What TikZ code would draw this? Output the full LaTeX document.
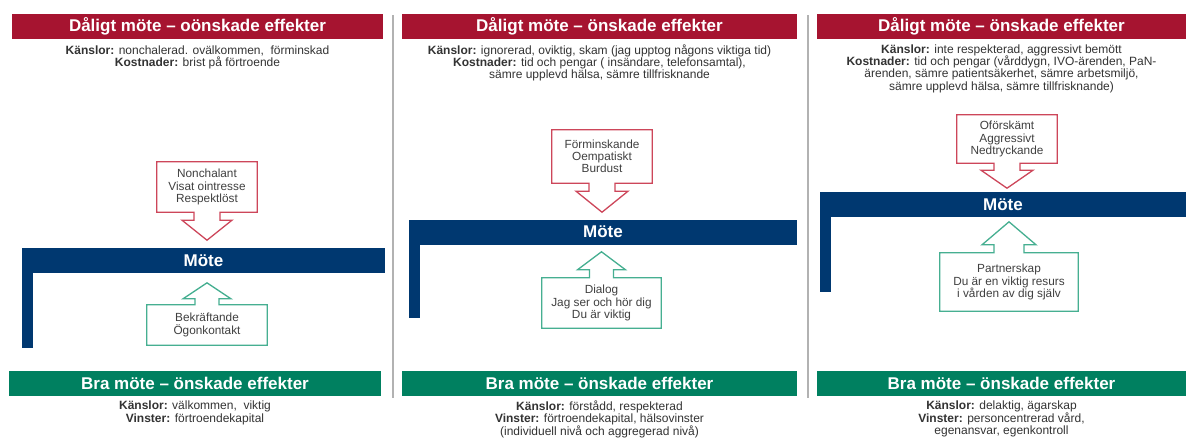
\documentclass[tikz,border=0pt]{standalone}
\usepackage{fontspec}
\setmainfont{Liberation Sans}
\usetikzlibrary{positioning, calc}

\definecolor{motered}{RGB}{166,20,48}
\definecolor{motenavy}{RGB}{0,56,112}
\definecolor{motegreen}{RGB}{0,128,96}
\definecolor{outred}{RGB}{205,70,90}
\definecolor{outgreen}{RGB}{70,175,145}

\begin{document}
\begin{tikzpicture}[x=1pt, y=-1pt,
  badbar/.style={
    fill=motered, text=white,
    font=\fontsize{17}{20}\selectfont\bfseries,
    minimum height=25pt, inner sep=0pt
  },
  goodbar/.style={badbar, fill=motegreen},
  motebar/.style={badbar, fill=motenavy},
  effekt/.style={
    font=\fontsize{12}{12.4}\selectfont, text=black!80,
    align=center, inner sep=0pt
  },
  badbox/.style={
    font=\fontsize{11.8}{12.2}\selectfont, text=black!75,
    align=center, inner sep=0pt, minimum width=100pt
  },
  goodbox/.style={badbox},
  badout/.style={draw=outred, line width=1.3pt},
  goodout/.style={draw=outgreen, line width=1.3pt},
  sep/.style={draw=black!30, line width=2pt}
]

\fill[white] (0,0) rectangle (1186,437);
\useasboundingbox (0,0) rectangle (1186,437);

%% Avdelare
\draw[sep] (393,15) -- (393,398);
\draw[sep] (808,15) -- (808,398);

%% PANEL 1
\node[badbar, minimum width=371pt] (bad1) at (197.5,26.5) {Dåligt möte – oönskade effekter};
\node[effekt, below=6pt of bad1] (badtxt1)
  {\textbf{Känslor:} nonchalerad. ovälkommen,\ \ förminskad\\
   \textbf{Kostnader:} brist på förtroende};

\node[badbox, minimum height=50pt] (badbox1) at (207,187)
  {Nonchalant\\Visat ointresse\\Respektlöst};
\draw[badout] (badbox1.south west) -- (badbox1.north west) -- (badbox1.north east) -- (badbox1.south east)
  -- ([xshift=13pt]badbox1.south) -- ++(0,8) -- ++(12,0) -- ++(-25,20) -- ++(-25,-20) -- ++(12,0) -- ++(0,-8) -- cycle;

\node[motebar, minimum width=363pt] (mote1) at (203.5,260.5) {Möte};
\fill[motenavy] (mote1.south west) rectangle ++(11,75);

\node[goodbox, minimum width=120pt, minimum height=40pt] (goodbox1) at (207,325)
  {Bekräftande\\Ögonkontakt};
\draw[goodout] (goodbox1.north west) -- (goodbox1.south west) -- (goodbox1.south east) -- (goodbox1.north east)
  -- ([xshift=12pt]goodbox1.north) -- ++(0,-6) -- ++(12,0) -- ++(-24,-16) -- ++(-24,16) -- ++(12,0) -- ++(0,6) -- cycle;

\node[goodbar, minimum width=372pt] (good1) at (195,383) {Bra möte – önskade effekter};
\node[effekt, below=5pt of good1] (goodtxt1)
  {\textbf{Känslor:} välkommen,\ \ viktig\\
   \textbf{Vinster:} förtroendekapital};

%% PANEL 2
\node[badbar, minimum width=395pt] (bad2) at (599.5,26.5) {Dåligt möte – önskade effekter};
\node[effekt, below=5pt of bad2] (badtxt2)
  {\textbf{Känslor:} ignorerad, oviktig, skam (jag upptog någons viktiga tid)\\
   \textbf{Kostnader:} tid och pengar ( insändare, telefonsamtal),\\
   sämre upplevd hälsa, sämre tillfrisknande};

\node[badbox, minimum height=53pt] (badbox2) at (602,156.5)
  {Förminskande\\Oempatiskt\\Burdust};
\draw[badout] (badbox2.south west) -- (badbox2.north west) -- (badbox2.north east) -- (badbox2.south east)
  -- ([xshift=13pt]badbox2.south) -- ++(0,8) -- ++(13,0) -- ++(-26,21) -- ++(-26,-21) -- ++(13,0) -- ++(0,-8) -- cycle;

\node[motebar, minimum width=388pt] (mote2) at (603,232) {Möte};
\fill[motenavy] (mote2.south west) rectangle ++(11,73);

\node[goodbox, minimum width=119pt, minimum height=50pt] (goodbox2) at (601.5,303)
  {Dialog\\Jag ser och hör dig\\Du är viktig};
\draw[goodout] (goodbox2.north west) -- (goodbox2.south west) -- (goodbox2.south east) -- (goodbox2.north east)
  -- ([xshift=12pt]goodbox2.north) -- ++(0,-8) -- ++(12,0) -- ++(-24,-18) -- ++(-24,18) -- ++(12,0) -- ++(0,8) -- cycle;

\node[goodbar, minimum width=395pt] (good2) at (599.5,383) {Bra möte – önskade effekter};
\node[effekt, below=5pt of good2] (goodtxt2)
  {\textbf{Känslor:} förstådd, respekterad\\
   \textbf{Vinster:} förtroendekapital, hälsovinster\\
   (individuell nivå och aggregerad nivå)};

%% PANEL 3
\node[badbar, minimum width=369pt] (bad3) at (1001.5,26.5) {Dåligt möte – önskade effekter};
\node[effekt, below=5pt of bad3] (badtxt3)
  {\textbf{Känslor:} inte respekterad, aggressivt bemött\\
   \textbf{Kostnader:} tid och pengar (vårddygn, IVO-ärenden, PaN-\\
   ärenden, sämre patientsäkerhet, sämre arbetsmiljö,\\
   sämre upplevd hälsa, sämre tillfrisknande)};

\node[badbox, minimum height=48pt] (badbox3) at (1007,139)
  {Oförskämt\\Aggressivt\\Nedtryckande};
\draw[badout] (badbox3.south west) -- (badbox3.north west) -- (badbox3.north east) -- (badbox3.south east)
  -- ([xshift=13pt]badbox3.south) -- ++(0,7) -- ++(13,0) -- ++(-26,18) -- ++(-26,-18) -- ++(13,0) -- ++(0,-7) -- cycle;

\node[motebar, minimum width=366pt] (mote3) at (1003,204.5) {Möte};
\fill[motenavy] (mote3.south west) rectangle ++(11,75);

\node[goodbox, minimum width=138pt, minimum height=58pt] (goodbox3) at (1009,282)
  {Partnerskap\\Du är en viktig resurs\\i vården av dig själv};
\draw[goodout] (goodbox3.north west) -- (goodbox3.south west) -- (goodbox3.south east) -- (goodbox3.north east)
  -- ([xshift=15pt]goodbox3.north) -- ++(0,-8) -- ++(12,0) -- ++(-27,-23) -- ++(-27,23) -- ++(12,0) -- ++(0,8) -- cycle;

\node[goodbar, minimum width=369pt] (good3) at (1001.5,383) {Bra möte – önskade effekter};
\node[effekt, below=5pt of good3] (goodtxt3)
  {\textbf{Känslor:} delaktig, ägarskap\\
   \textbf{Vinster:} personcentrerad vård,\\
   egenansvar, egenkontroll};

\end{tikzpicture}
\end{document}
